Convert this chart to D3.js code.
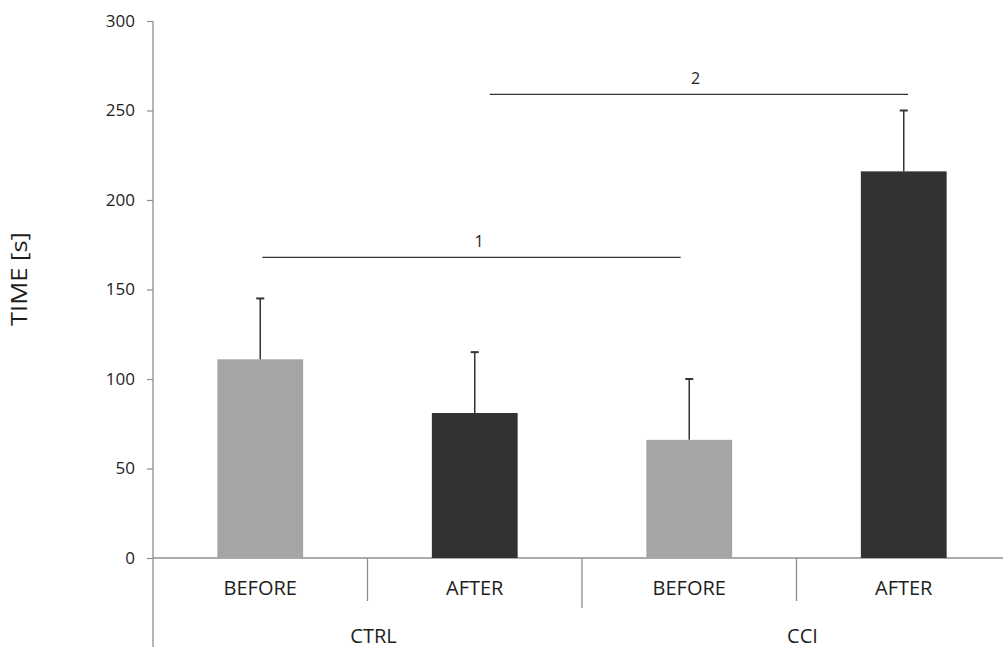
<!DOCTYPE html>
<html>
<head>
<meta charset="utf-8">
<script src="https://cdn.jsdelivr.net/npm/d3@7"></script>
<style>
  html, body { margin: 0; padding: 0; background: #fff; }
  svg text { font-family: "Open Sans", "DejaVu Sans", sans-serif; fill: #1e1e1e; }
</style>
</head>
<body>
<svg id="chart" width="1003" height="649"></svg>
<script>
// Bar values (mean time in seconds) and upper error (SD) per condition
const conditions = ["BEFORE", "AFTER", "BEFORE", "AFTER"];
const groups = ["CTRL", "CCI"];
const groupOf = [0, 0, 1, 1];
const means = [111, 81, 66, 216];
const errors = [34, 34, 34, 34];
const yTicks = [0, 50, 100, 150, 200, 250, 300];

// Significance brackets: span in slot units along the x axis, height in seconds
const bracketLabels = ["1", "2"];
const bracketFrom = [0.51, 1.57];
const bracketTo = [2.46, 3.52];
const bracketLabelAt = [1.52, 2.53];
const bracketLevel = [168, 259];

const lightFill = "#a4a5a4";
const darkFill = "#323232";
const axisColor = "#8f8f8f";

const svg = d3.select("#chart");
const plotLeft = 153, plotRight = 1011, plotTop = 21, plotBottom = 558;

const y = d3.scaleLinear().domain([0, 300]).range([plotBottom, plotTop]);
const idx = d3.range(conditions.length);
const x = d3.scaleBand().domain(idx).range([plotLeft, plotRight])
  .paddingInner(0.6).paddingOuter(0.3);
const slot = d3.scaleLinear().domain([0, conditions.length]).range([plotLeft, plotRight]);

// Y axis
const yAxis = d3.axisLeft(y).tickValues(yTicks).tickSize(6).tickPadding(12);
const gy = svg.append("g").attr("transform", `translate(${plotLeft},0)`).call(yAxis);
gy.select(".domain").remove();
gy.selectAll(".tick line").attr("stroke", axisColor).attr("stroke-width", 1.2);
gy.selectAll(".tick text").style("font-size", "17px").attr("fill", "#1e1e1e");
svg.append("line")
  .attr("x1", plotLeft).attr("x2", plotLeft).attr("y1", y(300)).attr("y2", 647)
  .attr("stroke", axisColor).attr("stroke-width", 1.3);

// X axis baseline
svg.append("line")
  .attr("x1", plotLeft).attr("x2", 1003).attr("y1", y(0)).attr("y2", y(0))
  .attr("stroke", axisColor).attr("stroke-width", 1.3);

// Separators between conditions (longer one between the two groups)
d3.range(1, conditions.length).forEach(i => {
  const between = groupOf[i] !== groupOf[i - 1];
  svg.append("line")
    .attr("x1", slot(i)).attr("x2", slot(i))
    .attr("y1", y(0)).attr("y2", between ? 608 : 601)
    .attr("stroke", axisColor).attr("stroke-width", 1.3);
});

// Bars
svg.selectAll("rect.bar").data(idx).join("rect")
  .attr("class", "bar")
  .attr("x", i => x(i))
  .attr("width", x.bandwidth())
  .attr("y", i => y(means[i]))
  .attr("height", i => y(0) - y(means[i]))
  .attr("fill", i => (i % 2 === 0 ? lightFill : darkFill));

// Upper error whiskers
const cap = 4;
idx.forEach(i => {
  const cx = x(i) + x.bandwidth() / 2;
  svg.append("line")
    .attr("x1", cx).attr("x2", cx)
    .attr("y1", y(means[i])).attr("y2", y(means[i] + errors[i]))
    .attr("stroke", "#333").attr("stroke-width", 1.5);
  svg.append("line")
    .attr("x1", cx - cap).attr("x2", cx + cap)
    .attr("y1", y(means[i] + errors[i])).attr("y2", y(means[i] + errors[i]))
    .attr("stroke", "#333").attr("stroke-width", 2);
});

// Condition labels
svg.selectAll("text.cond").data(idx).join("text")
  .attr("class", "cond")
  .attr("x", i => x(i) + x.bandwidth() / 2)
  .attr("y", 595)
  .attr("text-anchor", "middle")
  .style("font-size", "20px")
  .text(i => conditions[i]);

// Group labels
groups.forEach((g, gi) => {
  const members = idx.filter(i => groupOf[i] === gi);
  const cx = (slot(d3.min(members)) + slot(d3.max(members) + 1)) / 2;
  svg.append("text")
    .attr("x", cx + 6).attr("y", 643)
    .attr("text-anchor", "middle")
    .style("font-size", "20px")
    .text(g);
});

// Significance brackets
bracketLabels.forEach((lab, k) => {
  svg.append("line")
    .attr("x1", slot(bracketFrom[k])).attr("x2", slot(bracketTo[k]))
    .attr("y1", y(bracketLevel[k])).attr("y2", y(bracketLevel[k]))
    .attr("stroke", "#333").attr("stroke-width", 1.3);
  svg.append("text")
    .attr("x", slot(bracketLabelAt[k])).attr("y", y(bracketLevel[k]) - 10)
    .attr("text-anchor", "middle")
    .style("font-size", "16px")
    .text(lab);
});

// Y axis title
svg.append("text")
  .attr("transform", "translate(27,279) rotate(-90)")
  .attr("text-anchor", "middle")
  .attr("textLength", 94)
  .attr("lengthAdjust", "spacingAndGlyphs")
  .style("font-size", "21px")
  .text("TIME [s]");
</script>
</body>
</html>
